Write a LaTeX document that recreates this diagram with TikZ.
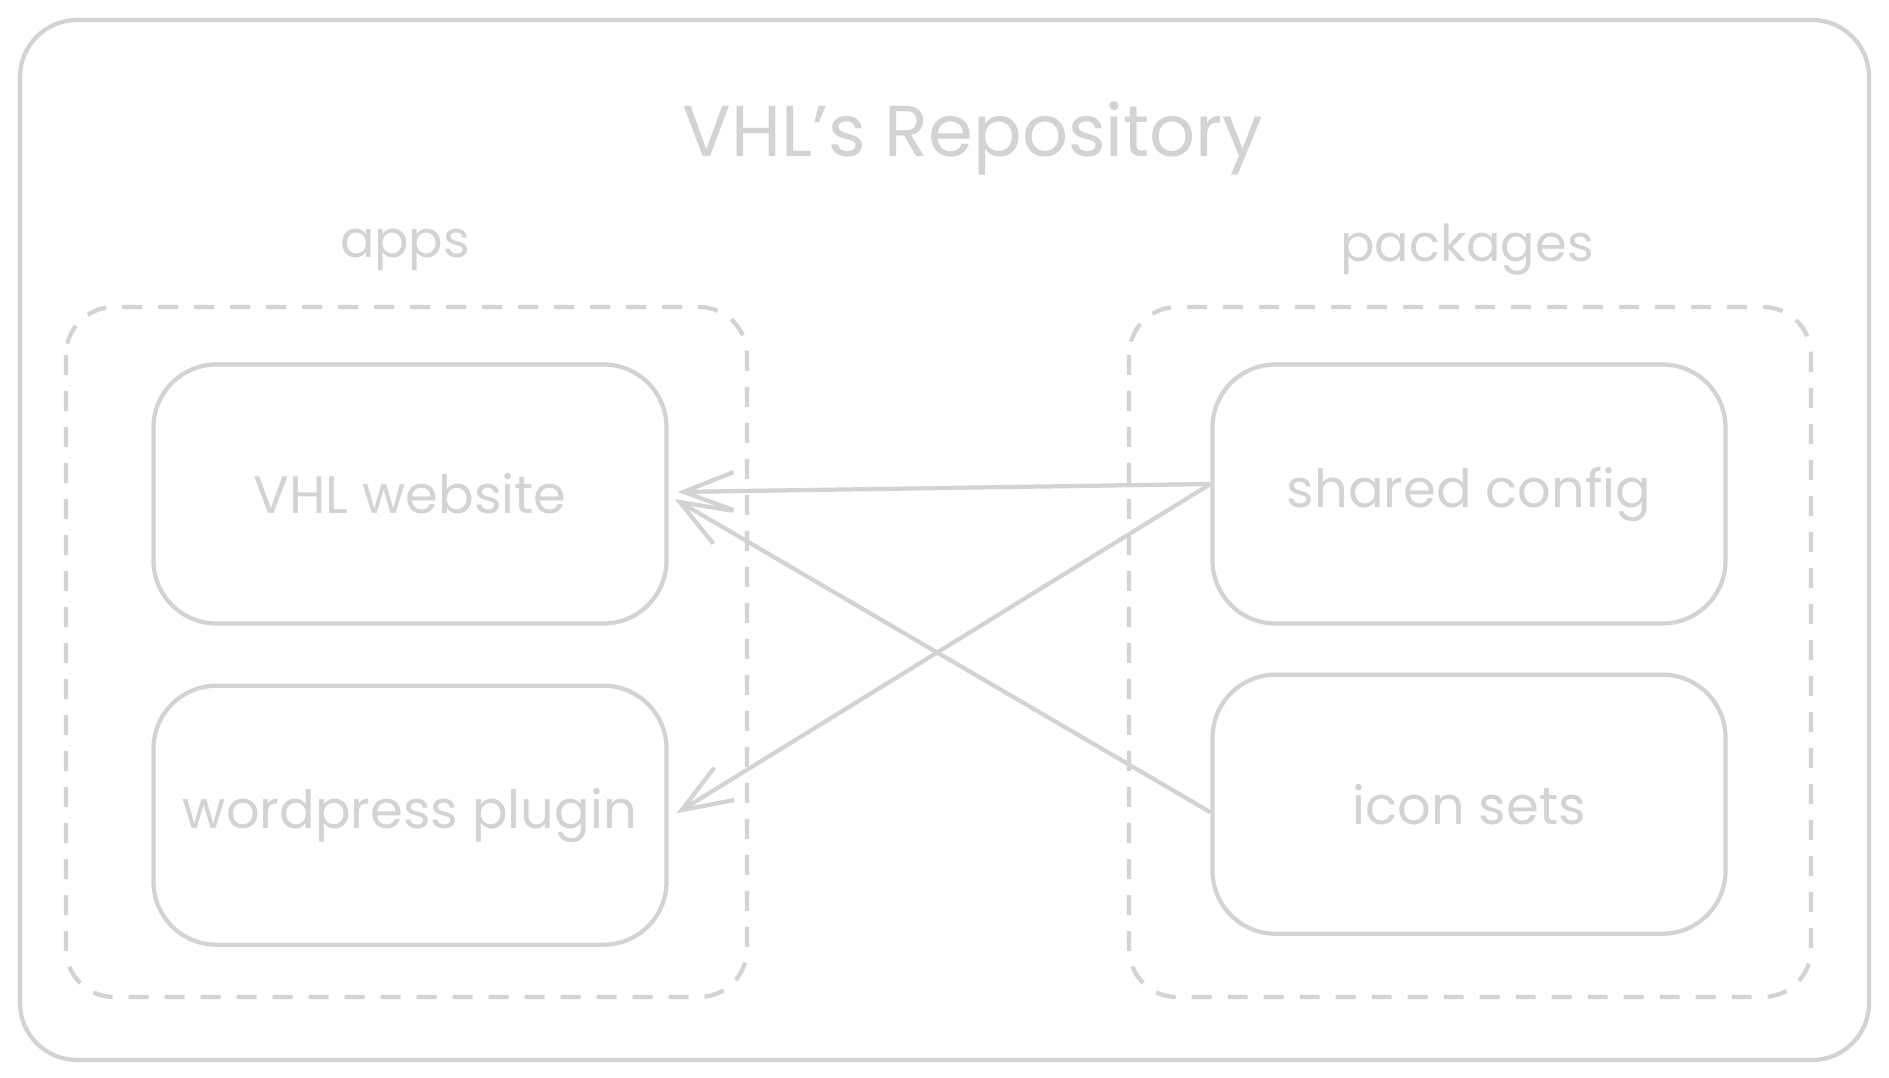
\documentclass[tikz,border=0pt]{standalone}
\usepackage{fontspec}
\setmainfont{Poppins}
\usetikzlibrary{arrows.meta,positioning}
\definecolor{sketchgray}{HTML}{D3D3D3}

\begin{document}
\begin{tikzpicture}[
  font=\fontsize{15}{18}\selectfont,
  line width=1.2pt,
  every node/.style={text=sketchgray},
  card/.style={draw=sketchgray, rounded corners=6.3mm, line width=1.2pt,
    minimum width=51.3mm, minimum height=25.9mm, align=center},
  group/.style={draw=sketchgray, dash pattern=on 2mm off 1.6mm,
    rounded corners=4.8mm, line width=1.2pt},
  grouplabel/.style={font=\fontsize{14.5}{17}\selectfont},
  arrow/.style={draw=sketchgray, -{Straight Barb[length=5mm,width=3.8mm]},
    line width=1.2pt}
]

% page and frame
\useasboundingbox (0,0) rectangle (18.89,-10.78);
\draw[sketchgray, rounded corners=5.7mm] (0.20,-0.20) rectangle (18.69,-10.60);

\node[font=\fontsize{20.5}{24}\selectfont] (title) at (9.73,-1.38) {VHL's Repository};

% groups
\draw[group] (0.66,-3.07) rectangle (7.47,-9.97);
\draw[group] (11.29,-3.07) rectangle (18.11,-9.97);
\node[grouplabel] (apps) at (4.05,-2.50) {apps};
\node[grouplabel] (packages) at (14.67,-2.50) {packages};

% cards
\node[card] (website) at (4.10,-4.94) {VHL website};
\node[card, below=5.8mm of website] (plugin) {wordpress plugin};
\node[card] (config) at (14.69,-4.94) {shared config};
\node[card, below=4.7mm of config] (icons) {icon sets};

% dependencies
\draw[arrow] ([yshift=1mm]config.west) -- ([xshift=0.9mm,yshift=0.2mm]website.east);
\draw[arrow] ([yshift=1mm]config.west) -- ([xshift=0.8mm,yshift=0.2mm]plugin.east);
\draw[arrow] ([yshift=-0.8mm]icons.west) -- ([xshift=0.6mm,yshift=-0.5mm]website.east);

\end{tikzpicture}
\end{document}
